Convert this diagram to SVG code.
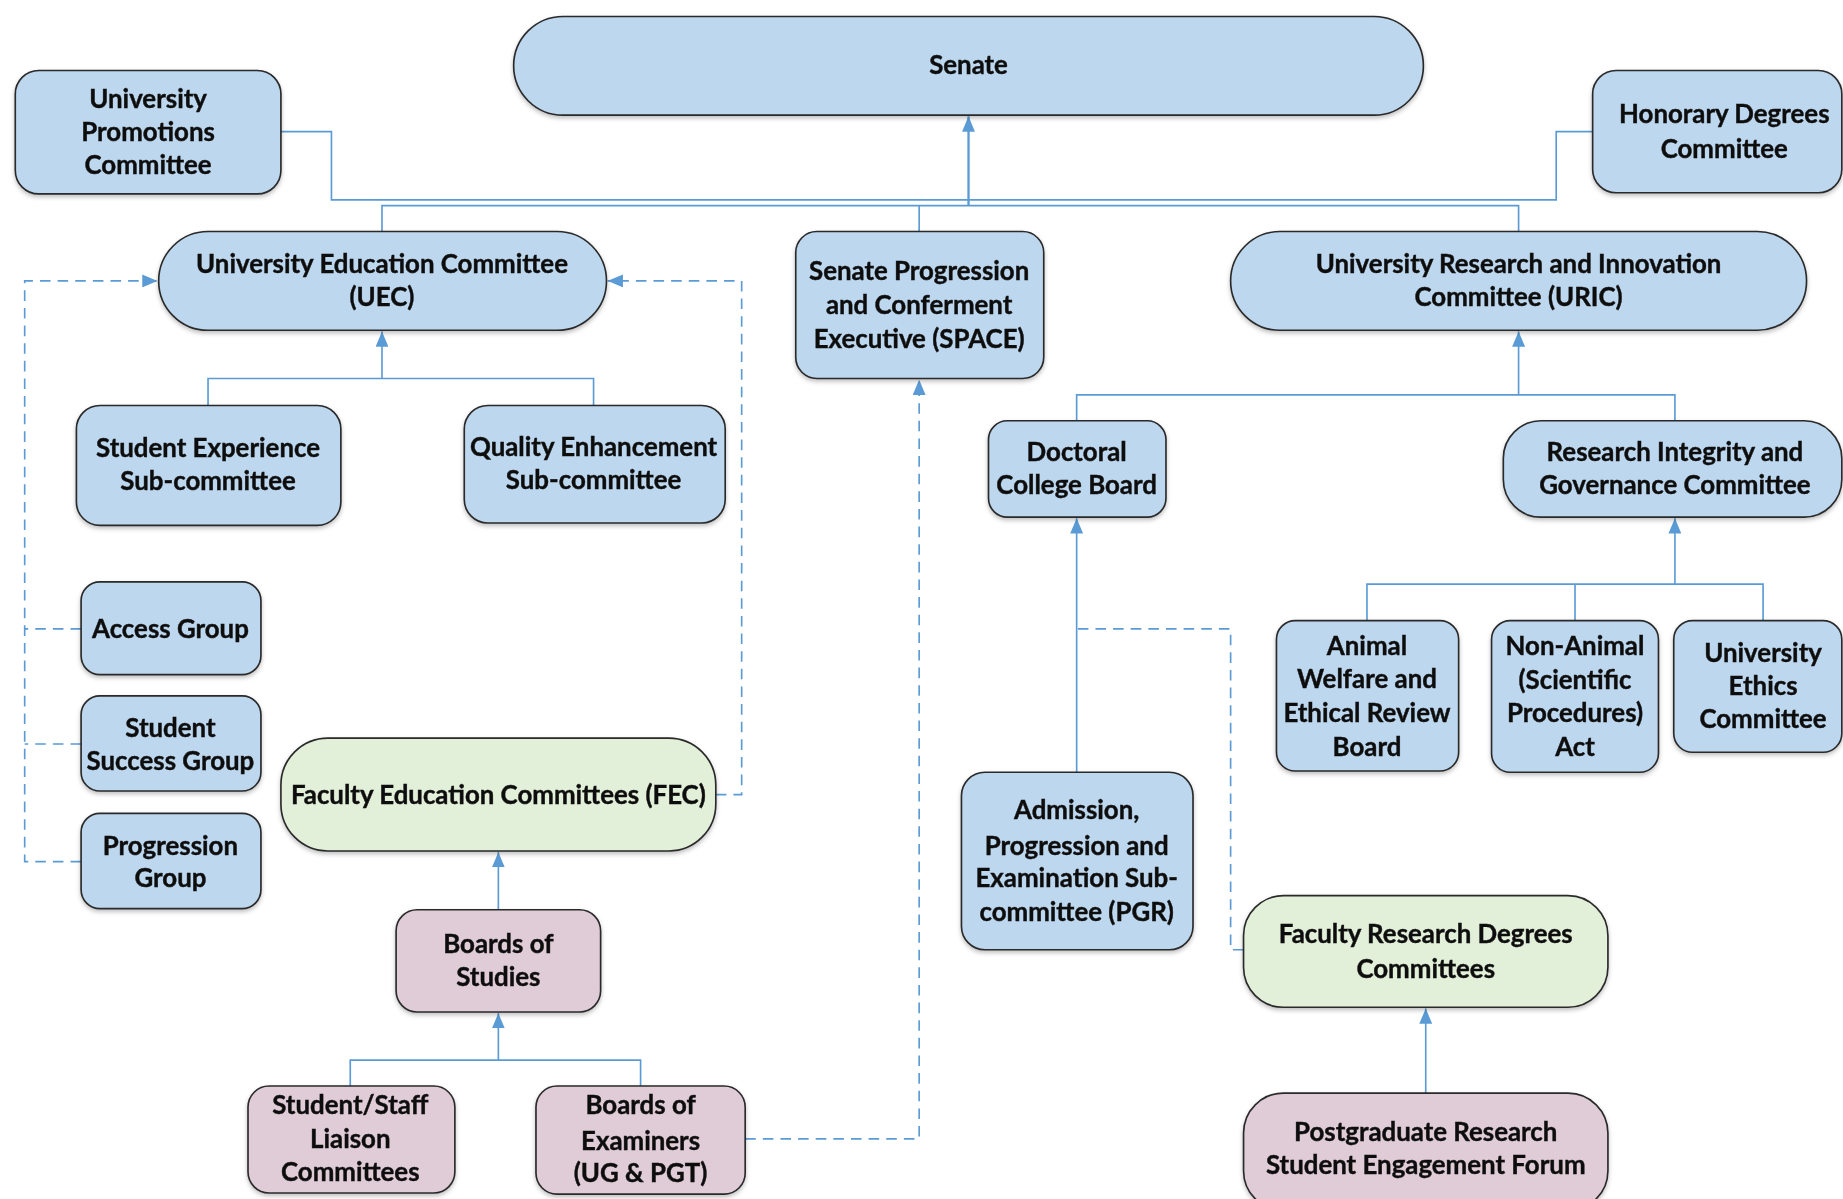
<svg xmlns="http://www.w3.org/2000/svg" width="1843" height="1199" viewBox="0 0 1843 1199">
<defs>
<style>
.b{fill:#bdd7ee;stroke:#2a2a2a;stroke-width:1.4}
.g{fill:#e2efd9;stroke:#2a2a2a;stroke-width:1.4}
.p{fill:#e0ccd7;stroke:#2a2a2a;stroke-width:1.4}
.t{font-family:Lato,"Liberation Sans",sans-serif;font-weight:bold;font-size:22px;fill:#111;stroke:#111;stroke-width:0.35;text-anchor:middle}
.c{fill:none;stroke:#5b9bd5;stroke-width:1.4}
.d{stroke-dasharray:9 6}
.n{filter:url(#sh)}
</style>
<filter id="sh" x="-10%" y="-10%" width="120%" height="130%">
<feDropShadow dx="0" dy="2" stdDeviation="2" flood-color="#000" flood-opacity="0.25"/>
</filter>
<marker id="a" viewBox="0 0 13 11" refX="13" refY="5.5" markerWidth="13" markerHeight="11" orient="auto" markerUnits="userSpaceOnUse">
<path d="M0,0 L13,5.5 L0,11 z" fill="#5b9bd5"/>
</marker>
</defs>
<rect width="1843" height="1199" fill="#fff"/>
<g transform="scale(1.17538)">
<g id="connectors">
<path class="c" d="M239,112 H282 V170 H1324 V112 H1355"/>
<path class="c" d="M325,197 V175 H1292 V197 M782,175 V197"/>
<path class="c" style="stroke-width:2" d="M824,175 V99" marker-end="url(#a)"/>
<path class="c" d="M325,322 V282" marker-end="url(#a)"/>
<path class="c" d="M177,345 V322 H505 V345"/>
<path class="c" d="M1292,336 V282" marker-end="url(#a)"/>
<path class="c" d="M916,358 V336 H1425 V358"/>
<path class="c" d="M1425,497 V441" marker-end="url(#a)"/>
<path class="c" d="M1163,528 V497 H1500 V528 M1340,497 V528"/>
<path class="c" d="M916,657 V441" marker-end="url(#a)"/>
<path class="c" d="M424,774 V725" marker-end="url(#a)"/>
<path class="c" d="M424,902 V862" marker-end="url(#a)"/>
<path class="c" d="M298,924 V902 H545 V924"/>
<path class="c" d="M1213,930 V858" marker-end="url(#a)"/>
<path class="c d" d="M69,535 H21 M69,633 H21"/>
<path class="c d" d="M69,733 H21 V239 H134" marker-end="url(#a)"/>
<path class="c d" d="M609,676 H631 V239 H517" marker-end="url(#a)"/>
<path class="c d" d="M634,969 H782 V323" marker-end="url(#a)"/>
<path class="c d" d="M1058,808 H1047 V535 H916"/>
</g>
<g id="senate" class="n"><rect class="b" x="437" y="14" width="774" height="84" rx="42"/><text class="t" x="824" y="63">Senate</text></g>
<g id="promotions" class="n"><rect class="b" x="13" y="60" width="226" height="105" rx="20"/><text class="t" x="126" y="92">University</text><text class="t" x="126" y="120">Promotions</text><text class="t" x="126" y="148">Committee</text></g>
<g id="honorary" class="n"><rect class="b" x="1355" y="60" width="212" height="104" rx="20"/><text class="t" x="1467" y="105">Honorary Degrees</text><text class="t" x="1467" y="134">Committee</text></g>
<g id="uec" class="n"><rect class="b" x="135" y="197" width="381" height="84" rx="42"/><text class="t" x="325" y="232">University Education Committee</text><text class="t" x="325" y="260">(UEC)</text></g>
<g id="space" class="n"><rect class="b" x="677" y="197" width="211" height="125" rx="18"/><text class="t" x="782" y="238">Senate Progression</text><text class="t" x="782" y="267">and Conferment</text><text class="t" x="782" y="296">Executive (SPACE)</text></g>
<g id="uric" class="n"><rect class="b" x="1047" y="197" width="490" height="84" rx="42"/><text class="t" x="1292" y="232">University Research and Innovation</text><text class="t" x="1292" y="260">Committee (URIC)</text></g>
<g id="sesc" class="n"><rect class="b" x="65" y="345" width="225" height="102" rx="20"/><text class="t" x="177" y="389">Student Experience</text><text class="t" x="177" y="417">Sub-committee</text></g>
<g id="qesc" class="n"><rect class="b" x="395" y="345" width="222" height="100" rx="20"/><text class="t" x="505" y="388">Quality Enhancement</text><text class="t" x="505" y="416">Sub-committee</text></g>
<g id="dcb" class="n"><rect class="b" x="841" y="358" width="151" height="82" rx="16"/><text class="t" x="916" y="392">Doctoral</text><text class="t" x="916" y="420">College Board</text></g>
<g id="rigc" class="n"><rect class="b" x="1279" y="358" width="288" height="82" rx="32"/><text class="t" x="1425" y="392">Research Integrity and</text><text class="t" x="1425" y="420">Governance Committee</text></g>
<g id="access" class="n"><rect class="b" x="69" y="495" width="153" height="79" rx="16"/><text class="t" x="145" y="543">Access Group</text></g>
<g id="success" class="n"><rect class="b" x="69" y="592" width="153" height="81" rx="16"/><text class="t" x="145" y="627">Student</text><text class="t" x="145" y="655">Success Group</text></g>
<g id="progression" class="n"><rect class="b" x="69" y="692" width="153" height="81" rx="16"/><text class="t" x="145" y="727">Progression</text><text class="t" x="145" y="755">Group</text></g>
<g id="fec" class="n"><rect class="g" x="239" y="628" width="370" height="96" rx="40"/><text class="t" x="424" y="684">Faculty Education Committees (FEC)</text></g>
<g id="awerb" class="n"><rect class="b" x="1086" y="528" width="155" height="128" rx="16"/><text class="t" x="1163" y="557">Animal</text><text class="t" x="1163" y="585">Welfare and</text><text class="t" x="1163" y="614">Ethical Review</text><text class="t" x="1163" y="643">Board</text></g>
<g id="nonanimal" class="n"><rect class="b" x="1269" y="528" width="142" height="129" rx="16"/><text class="t" x="1340" y="557">Non-Animal</text><text class="t" x="1340" y="586">(Scientific</text><text class="t" x="1340" y="614">Procedures)</text><text class="t" x="1340" y="643">Act</text></g>
<g id="ethics" class="n"><rect class="b" x="1424" y="528" width="143" height="112" rx="16"/><text class="t" x="1500" y="563">University</text><text class="t" x="1500" y="591">Ethics</text><text class="t" x="1500" y="619">Committee</text></g>
<g id="apesc" class="n"><rect class="b" x="818" y="657" width="197" height="151" rx="20"/><text class="t" x="916" y="697">Admission,</text><text class="t" x="916" y="727">Progression and</text><text class="t" x="916" y="755">Examination Sub-</text><text class="t" x="916" y="784">committee (PGR)</text></g>
<g id="frdc" class="n"><rect class="g" x="1058" y="762" width="310" height="95" rx="34"/><text class="t" x="1213" y="802">Faculty Research Degrees</text><text class="t" x="1213" y="832">Committees</text></g>
<g id="bos" class="n"><rect class="p" x="337" y="774" width="174" height="87" rx="18"/><text class="t" x="424" y="811">Boards of</text><text class="t" x="424" y="839">Studies</text></g>
<g id="sslc" class="n"><rect class="p" x="211" y="924" width="176" height="91" rx="18"/><text class="t" x="298" y="948">Student/Staff</text><text class="t" x="298" y="977">Liaison</text><text class="t" x="298" y="1005">Committees</text></g>
<g id="boe" class="n"><rect class="p" x="456" y="924" width="178" height="92" rx="18"/><text class="t" x="545" y="948">Boards of</text><text class="t" x="545" y="978">Examiners</text><text class="t" x="545" y="1006">(UG &amp; PGT)</text></g>
<g id="pgrsef" class="n"><rect class="p" x="1058" y="930" width="310" height="100" rx="34"/><text class="t" x="1213" y="971">Postgraduate Research</text><text class="t" x="1213" y="999">Student Engagement Forum</text></g>
</g>
</svg>
